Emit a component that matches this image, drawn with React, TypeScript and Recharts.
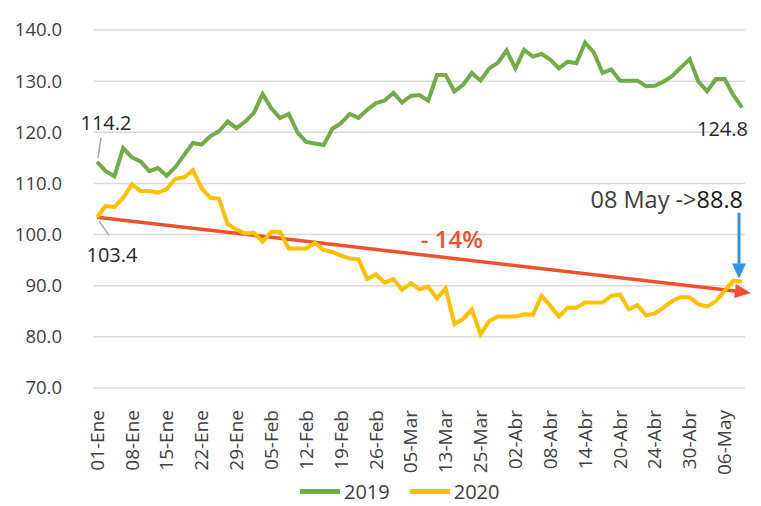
import { LineChart, Line, XAxis, YAxis, CartesianGrid, Legend, ReferenceLine } from "recharts";

const tickLabels = [
  "01-Ene", "08-Ene", "15-Ene", "22-Ene", "29-Ene", "05-Feb", "12-Feb", "19-Feb", "26-Feb", "05-Mar",
  "13-Mar", "25-Mar", "02-Abr", "08-Abr", "14-Abr", "20-Abr", "24-Abr", "30-Abr", "06-May",
];
const LABEL_STEP = 4;

const values2019 = [
  114.2, 112.4, 111.4, 116.9, 115.1, 114.3, 112.4, 113.0, 111.5, 113.2,
  115.6, 117.9, 117.6, 119.2, 120.2, 122.1, 120.8, 122.1, 123.8, 127.5,
  124.7, 122.8, 123.6, 120.0, 118.1, 117.8, 117.5, 120.7, 121.8, 123.6,
  122.8, 124.4, 125.7, 126.2, 127.7, 125.8, 127.1, 127.3, 126.2, 131.2,
  131.2, 128.0, 129.3, 131.6, 130.1, 132.5, 133.6, 136.0, 132.5, 136.1,
  134.8, 135.3, 134.2, 132.5, 133.8, 133.5, 137.5, 135.6, 131.6, 132.3,
  130.1, 130.1, 130.1, 129.0, 129.1, 129.9, 131.0, 132.7, 134.3, 129.9,
  128.0, 130.4, 130.4, 127.3, 124.8,
];

const values2020 = [
  103.4, 105.6, 105.4, 107.2, 109.8, 108.5, 108.5, 108.2, 108.9, 110.9,
  111.2, 112.6, 109.1, 107.2, 107.0, 102.0, 101.0, 100.2, 100.4, 98.6,
  100.6, 100.5, 97.3, 97.3, 97.3, 98.4, 97.0, 96.6, 95.9, 95.3,
  95.2, 91.3, 92.2, 90.6, 91.3, 89.2, 90.5, 89.3, 89.8, 87.5,
  89.5, 82.5, 83.5, 85.4, 80.5, 83.1, 84.0, 84.0, 84.0, 84.4,
  84.3, 88.0, 86.1, 84.0, 85.7, 85.7, 86.7, 86.7, 86.7, 88.0,
  88.3, 85.4, 86.2, 84.2, 84.6, 85.7, 87.0, 87.8, 87.7, 86.4,
  85.9, 87.0, 89.0, 91.0, 90.8,
];

const yTicks = [70, 80, 90, 100, 110, 120, 130, 140];
const trendStart = 103.4;
const trendEnd = 88.8;
const lastDateText = "08 May";

const GREEN = "#70AD47";
const YELLOW = "#FFC000";
const RED = "#F0502D";
const BLUE = "#2E94E6";
const FONT = "'Open Sans', sans-serif";

const data = values2019.map((v, i) => ({ i, y2019: v, y2020: values2020[i] }));
const lastIdx = data.length - 1;
const xTicks = tickLabels.map((_, k) => k * LABEL_STEP);

function YTick({ x, y, payload }: any) {
  return (
    <text x={x - 24} y={y} dy="0.35em" textAnchor="end" fontSize={18.5} fill="#404040" fontFamily={FONT}>
      {payload.value.toFixed(1)}
    </text>
  );
}

function XTick({ x, y, payload }: any) {
  const label = tickLabels[Math.round(payload.value / LABEL_STEP)];
  return (
    <g transform={`translate(${x},${y + 14}) rotate(-90)`}>
      <text x={0} y={0} dy="0.35em" textAnchor="end" fontSize={19} fill="#404040" fontFamily={FONT}>
        {label}
      </text>
    </g>
  );
}

function GreenLabel({ x, y, index, value }: any) {
  if (index === 0) {
    return (
      <g>
        <line x1={x + 1} y1={y - 4} x2={x + 4} y2={y - 24} stroke="#A6A6A6" strokeWidth={1.5} />
        <text x={x + 9} y={y - 32} textAnchor="middle" fontSize={20} fill="#262626" fontFamily={FONT}>
          {value.toFixed(1)}
        </text>
      </g>
    );
  }
  if (index === lastIdx) {
    return (
      <text x={x + 6} y={y + 28} textAnchor="end" fontSize={20} fill="#262626" fontFamily={FONT}>
        {value.toFixed(1)}
      </text>
    );
  }
  return null;
}

function YellowLabel({ x, y, index, value }: any) {
  if (index === 0) {
    return (
      <g>
        <line x1={x + 2} y1={y + 4} x2={x + 12} y2={y + 18} stroke="#A6A6A6" strokeWidth={1.5} />
        <text x={x + 15} y={y + 45} textAnchor="middle" fontSize={20} fill="#262626" fontFamily={FONT}>
          {value.toFixed(1)}
        </text>
      </g>
    );
  }
  if (index === lastIdx) {
    const ax = x - 3;
    return (
      <g>
        <line x1={ax} y1={y - 69} x2={ax} y2={y - 16} stroke={BLUE} strokeWidth={3} />
        <polygon points={`${ax},${y - 3} ${ax - 7},${y - 18} ${ax + 7},${y - 18}`} fill={BLUE} />
        <text x={x + 1} y={y - 74} textAnchor="end" fontSize={23.5} fill="#404040" fontFamily={FONT}>
          {lastDateText} -&gt;<tspan fill="#1a1a1a">{trendEnd.toFixed(1)}</tspan>
        </text>
      </g>
    );
  }
  return null;
}

function TrendArrow(props: any) {
  const { x1, y1, x2, y2 } = props;
  const dx = x2 - x1;
  const dy = y2 - y1;
  const len = Math.sqrt(dx * dx + dy * dy);
  const ux = dx / len;
  const uy = dy / len;
  const tipX = x2 + ux * 9;
  const tipY = y2 + uy * 9;
  const baseX = tipX - ux * 16;
  const baseY = tipY - uy * 16;
  const px = -uy;
  const py = ux;
  const t = 0.547;
  const mx = x1 + dx * t;
  const my = y1 + dy * t;
  return (
    <g>
      <line x1={x1} y1={y1} x2={baseX + ux * 2} y2={baseY + uy * 2} stroke={RED} strokeWidth={3.5} />
      <polygon
        points={`${tipX},${tipY} ${baseX + px * 7},${baseY + py * 7} ${baseX - px * 7},${baseY - py * 7}`}
        fill={RED}
      />
      <text x={mx + 2} y={my - 10} textAnchor="middle" fontSize={24} fontWeight={600} fill={RED} fontFamily={FONT}>
        - 14%
      </text>
    </g>
  );
}

function LegendContent() {
  const items = [
    { name: "2019", color: GREEN },
    { name: "2020", color: YELLOW },
  ];
  return (
    <div style={{ display: "flex", alignItems: "center", marginLeft: 300, fontFamily: FONT, fontSize: 20, color: "#404040" }}>
      {items.map((it) => (
        <div key={it.name} style={{ display: "flex", alignItems: "center", marginRight: 20 }}>
          <span style={{ display: "inline-block", width: 40, height: 5, background: it.color, marginRight: 4 }} />
          <span>{it.name}</span>
        </div>
      ))}
    </div>
  );
}

export default function App() {
  return (
    <div style={{ position: "absolute", left: 0, top: 0, background: "#fff" }}>
      <LineChart width={761} height={506} data={data} margin={{ top: 30, right: 16, bottom: 0, left: 0 }}>
        <CartesianGrid vertical={false} stroke="#D9D9D9" strokeWidth={1.5} />
        <XAxis
          dataKey="i"
          type="number"
          domain={[0, lastIdx]}
          ticks={xTicks}
          interval={0}
          padding={{ left: 3, right: 3 }}
          axisLine={false}
          tickLine={false}
          height={90}
          tick={<XTick />}
        />
        <YAxis
          domain={[70, 140]}
          ticks={yTicks}
          width={94}
          axisLine={false}
          tickLine={false}
          tick={<YTick />}
        />
        <Legend verticalAlign="bottom" height={28} content={<LegendContent />} />
        <ReferenceLine
          segment={[{ x: 0, y: trendStart }, { x: lastIdx, y: trendEnd }]}
          ifOverflow="visible"
          shape={TrendArrow}
        />
        <Line
          dataKey="y2019"
          name="2019"
          stroke={GREEN}
          strokeWidth={4}
          dot={false}
          isAnimationActive={false}
          label={GreenLabel}
        />
        <Line
          dataKey="y2020"
          name="2020"
          stroke={YELLOW}
          strokeWidth={4}
          dot={false}
          isAnimationActive={false}
          label={YellowLabel}
        />
      </LineChart>
    </div>
  );
}
